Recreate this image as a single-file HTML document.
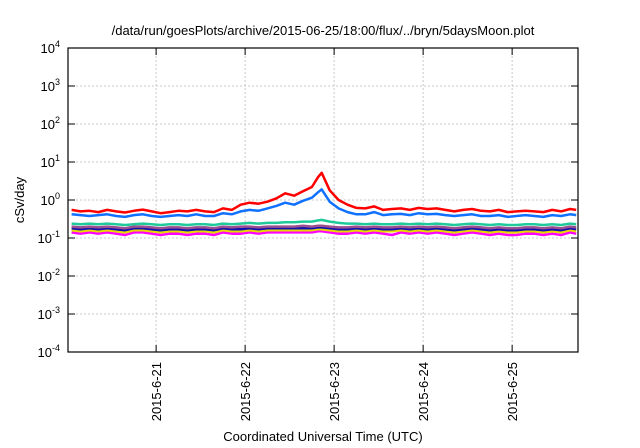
<!DOCTYPE html>
<html><head><meta charset="utf-8">
<style>
body{margin:0;background:#fff;}
svg{display:block;font-family:"Liberation Sans",sans-serif;}
</style></head>
<body>
<svg id="chart" width="640" height="448">
<rect width="640" height="448" fill="#fff"/>
<text x="323" y="35" font-size="13" text-anchor="middle" fill="#000">/data/run/goesPlots/archive/2015-06-25/18:00/flux/../bryn/5daysMoon.plot</text>
<text x="323" y="441" font-size="13" text-anchor="middle" fill="#000">Coordinated Universal Time (UTC)</text>
<text transform="translate(24,200) rotate(-90)" font-size="13" text-anchor="middle" fill="#000">cSv/day</text>
<g id="grid"></g><g id="series"></g><g id="axes"></g>
</svg>
<script>
const xTickLabels=["2015-6-21","2015-6-22","2015-6-23","2015-6-24","2015-6-25"];
const xTickDays=[1,2,3,4,5];
const yTickExps=[-4,-3,-2,-1,0,1,2,3,4];
const times=[0.05,0.15,0.25,0.35,0.45,0.55,0.65,0.75,0.85,0.95,1.05,1.15,1.25,1.35,1.45,1.55,1.65,1.75,1.85,1.95,2.05,2.15,2.25,2.35,2.45,2.55,2.65,2.75,2.82,2.86,2.95,3.05,3.15,3.25,3.35,3.45,3.55,3.65,3.75,3.85,3.95,4.05,4.15,4.25,4.35,4.45,4.55,4.65,4.75,4.85,4.95,5.05,5.15,5.25,5.35,5.45,5.55,5.65,5.72];
const red=[0.55,0.5,0.52,0.48,0.55,0.5,0.47,0.52,0.56,0.5,0.45,0.48,0.52,0.5,0.55,0.5,0.48,0.6,0.55,0.75,0.85,0.8,0.9,1.1,1.5,1.3,1.7,2.2,4.0,5.2,1.8,1.0,0.75,0.62,0.6,0.68,0.55,0.58,0.6,0.55,0.62,0.58,0.6,0.55,0.5,0.55,0.58,0.52,0.5,0.55,0.48,0.5,0.52,0.5,0.48,0.55,0.5,0.58,0.55];
const blue=[0.42,0.4,0.38,0.4,0.42,0.38,0.36,0.4,0.42,0.38,0.36,0.38,0.4,0.38,0.42,0.38,0.38,0.45,0.42,0.5,0.55,0.52,0.6,0.7,0.85,0.75,0.95,1.15,1.6,1.9,0.9,0.6,0.48,0.42,0.42,0.48,0.4,0.42,0.43,0.4,0.45,0.42,0.43,0.4,0.38,0.4,0.42,0.38,0.38,0.4,0.36,0.38,0.4,0.38,0.36,0.4,0.38,0.42,0.4];
const teal=[0.24,0.23,0.24,0.23,0.24,0.23,0.22,0.23,0.24,0.23,0.22,0.23,0.23,0.22,0.23,0.23,0.22,0.24,0.23,0.24,0.25,0.24,0.25,0.25,0.26,0.26,0.27,0.27,0.29,0.3,0.27,0.25,0.24,0.24,0.23,0.24,0.23,0.23,0.24,0.23,0.24,0.23,0.24,0.23,0.22,0.23,0.24,0.23,0.22,0.23,0.22,0.22,0.23,0.23,0.22,0.23,0.22,0.24,0.23];
const purple=[0.2,0.19,0.2,0.19,0.2,0.19,0.18,0.2,0.2,0.19,0.18,0.19,0.19,0.18,0.19,0.19,0.18,0.2,0.19,0.2,0.2,0.19,0.2,0.2,0.2,0.2,0.21,0.2,0.21,0.21,0.2,0.19,0.19,0.2,0.19,0.2,0.19,0.19,0.2,0.19,0.2,0.19,0.2,0.19,0.18,0.19,0.2,0.19,0.18,0.19,0.18,0.18,0.19,0.19,0.18,0.19,0.18,0.2,0.19];
const navy=[0.18,0.17,0.18,0.17,0.18,0.17,0.16,0.18,0.18,0.17,0.16,0.17,0.17,0.16,0.17,0.17,0.16,0.18,0.17,0.17,0.18,0.17,0.18,0.18,0.18,0.18,0.18,0.18,0.19,0.19,0.18,0.17,0.17,0.18,0.17,0.18,0.17,0.17,0.18,0.17,0.18,0.17,0.18,0.17,0.16,0.17,0.18,0.17,0.16,0.17,0.16,0.16,0.17,0.17,0.16,0.17,0.16,0.18,0.17];
const yellow=[0.16,0.15,0.16,0.15,0.16,0.15,0.14,0.16,0.16,0.15,0.14,0.15,0.15,0.14,0.15,0.15,0.14,0.16,0.15,0.15,0.16,0.15,0.16,0.16,0.16,0.16,0.16,0.16,0.17,0.17,0.16,0.15,0.15,0.16,0.15,0.16,0.15,0.15,0.16,0.15,0.16,0.15,0.16,0.15,0.14,0.15,0.16,0.15,0.14,0.15,0.14,0.14,0.15,0.15,0.14,0.15,0.14,0.16,0.15];
const magenta=[0.14,0.13,0.14,0.13,0.14,0.13,0.12,0.14,0.14,0.13,0.12,0.13,0.13,0.12,0.13,0.13,0.12,0.14,0.13,0.13,0.14,0.13,0.14,0.14,0.14,0.14,0.14,0.14,0.15,0.15,0.14,0.13,0.13,0.14,0.13,0.14,0.13,0.12,0.14,0.13,0.14,0.13,0.14,0.13,0.12,0.13,0.14,0.13,0.12,0.13,0.12,0.12,0.13,0.13,0.12,0.13,0.12,0.14,0.13];
const L=68,R=578,T=48,B=352,D0=0.01,D1=5.74;
function xs(d){return L+(d-D0)/(D1-D0)*(R-L);}
function ys(v){return B-(Math.log10(v)+4)/8*(B-T);}
const NS="http://www.w3.org/2000/svg";
function mk(tag,attrs,parent){const e=document.createElementNS(NS,tag);for(const k in attrs)e.setAttribute(k,attrs[k]);parent.appendChild(e);return e;}
const grid=document.getElementById('grid'),axes=document.getElementById('axes'),ser=document.getElementById('series');
yTickExps.forEach(e=>{const y=ys(Math.pow(10,e));
 if(e>-4&&e<4){const g=mk('line',{x1:L,x2:R,y1:y,y2:y,stroke:'#c8c8c8','stroke-dasharray':'2,2','stroke-width':1},grid);
 
 }
 mk('line',{x1:L,x2:L+7,y1:y,y2:y,stroke:'#000'},axes);
 mk('line',{x1:R,x2:R-7,y1:y,y2:y,stroke:'#000'},axes);
 const tx=mk('text',{x:L-8,y:y+5,'font-size':13,'text-anchor':'end'},axes);
 
 
 tx.innerHTML='10<tspan dy="-6" font-size="9">'+e+'</tspan>';
});
xTickDays.forEach((d,i)=>{const x=xs(d);
 const g=mk('line',{x1:x,x2:x,y1:T,y2:B,stroke:'#c8c8c8','stroke-dasharray':'2,2'},grid);
 
 
 mk('line',{x1:x,x2:x,y1:B,y2:B-7,stroke:'#000'},axes);
 mk('line',{x1:x,x2:x,y1:T,y2:T+7,stroke:'#000'},axes);
 const tx=mk('text',{transform:'translate('+(x+5)+','+(B+10)+') rotate(-90)','font-size':13,'text-anchor':'end'},axes);
 
 
 tx.textContent=xTickLabels[i];
});
const frame=mk('rect',{x:L,y:T,width:R-L,height:B-T,fill:'none',stroke:'#000','stroke-width':1.2},axes);


const list=[[magenta,'#ff00ff','series-magenta'],[yellow,'#e8d800','series-yellow'],[navy,'#1010b0','series-navy'],[purple,'#9a4f8e','series-purple'],[teal,'#20c99a','series-teal'],[blue,'#1070ff','series-blue'],[red,'#ff0000','series-red']];
list.forEach(([arr,c,n])=>{
 const pts=arr.map((v,i)=>xs(times[i]).toFixed(1)+','+ys(v).toFixed(1)).join(' ');
 const p=mk('polyline',{points:pts,fill:'none',stroke:c,'stroke-width':2.5,'stroke-linejoin':'round'},ser);
 
 
});
</script>
</body></html>
